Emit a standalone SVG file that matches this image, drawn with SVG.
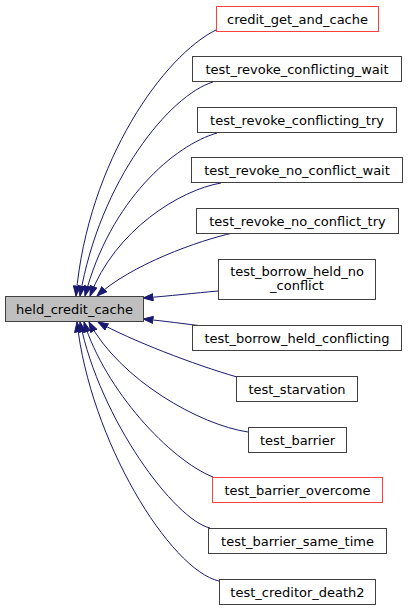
<svg xmlns="http://www.w3.org/2000/svg" width="408" height="611" viewBox="0 0 408 611">
<style>
.n rect{fill:#ffffff;stroke:#404040;stroke-width:1}
.n.red rect{stroke:#ff4040}
.n.main rect{fill:#bfbfbf}
.n text{font-family:"DejaVu Sans",sans-serif;font-size:13px;fill:#000;text-anchor:middle}
.e path{fill:none;stroke:#191970;stroke-width:1;marker-end:url(#ah)}
</style>
<defs>
<marker id="ah" viewBox="0 0 11 8" refX="10.5" refY="4" markerWidth="11" markerHeight="8" markerUnits="userSpaceOnUse" orient="auto">
<path d="M0.5,0.5 L10.5,4 L0.5,7.5 Z" fill="#191970" stroke="#191970" stroke-width="1"/>
</marker>
</defs>
<g id="edges" class="e">
<path d="M216,30 C165,55 88,160 76,296"/>
<path d="M213,82 C170,95 100,180 80,296"/>
<path d="M217,133 C175,145 110,200 85,296"/>
<path d="M221,183 C180,190 115,230 90,296"/>
<path d="M233,233 C200,240 130,265 97,296"/>
<path d="M218,291 C195,293 170,296 143,298"/>
<path d="M203,326 C185,324 165,321 143,319"/>
<path d="M237,377 C195,365 130,340 98,322"/>
<path d="M248,432 C200,425 120,380 89,322"/>
<path d="M213,477 C170,460 105,390 84,322"/>
<path d="M210,528 C175,520 100,420 80,322"/>
<path d="M219,581 C170,570 90,440 77,322"/>
</g>
<g id="held_credit_cache" class="n main"><rect x="5.5" y="296.5" width="138" height="25"/><text x="74.5" y="313.5">held_credit_cache</text></g>
<g id="credit_get_and_cache" class="n red"><rect x="216.5" y="6.5" width="162" height="25"/><text x="297.5" y="23.5">credit_get_and_cache</text></g>
<g id="test_revoke_conflicting_wait" class="n"><rect x="192.5" y="56.5" width="209" height="25"/><text x="297" y="73.5">test_revoke_conflicting_wait</text></g>
<g id="test_revoke_conflicting_try" class="n"><rect x="197.5" y="107.5" width="199" height="25"/><text x="297" y="124.5">test_revoke_conflicting_try</text></g>
<g id="test_revoke_no_conflict_wait" class="n"><rect x="191.5" y="157.5" width="211" height="25"/><text x="297" y="174.5">test_revoke_no_conflict_wait</text></g>
<g id="test_revoke_no_conflict_try" class="n"><rect x="196.5" y="208.5" width="202" height="25"/><text x="297.5" y="225.5">test_revoke_no_conflict_try</text></g>
<g id="test_borrow_held_no_conflict" class="n"><rect x="218.5" y="259.5" width="157" height="40"/><text x="297" y="275.5">test_borrow_held_no</text><text x="297" y="290">_conflict</text></g>
<g id="test_borrow_held_conflicting" class="n"><rect x="192.5" y="325.5" width="209" height="25"/><text x="297" y="342.5">test_borrow_held_conflicting</text></g>
<g id="test_starvation" class="n"><rect x="236.5" y="376.5" width="121" height="25"/><text x="297" y="393.5">test_starvation</text></g>
<g id="test_barrier" class="n"><rect x="248.5" y="427.5" width="98" height="25"/><text x="297.5" y="444.5">test_barrier</text></g>
<g id="test_barrier_overcome" class="n red"><rect x="212.5" y="477.5" width="170" height="25"/><text x="297.5" y="494.5">test_barrier_overcome</text></g>
<g id="test_barrier_same_time" class="n"><rect x="208.5" y="528.5" width="178" height="25"/><text x="297.5" y="545.5">test_barrier_same_time</text></g>
<g id="test_creditor_death2" class="n"><rect x="219.5" y="579.5" width="156" height="25"/><text x="297.5" y="596.5">test_creditor_death2</text></g>
</svg>
